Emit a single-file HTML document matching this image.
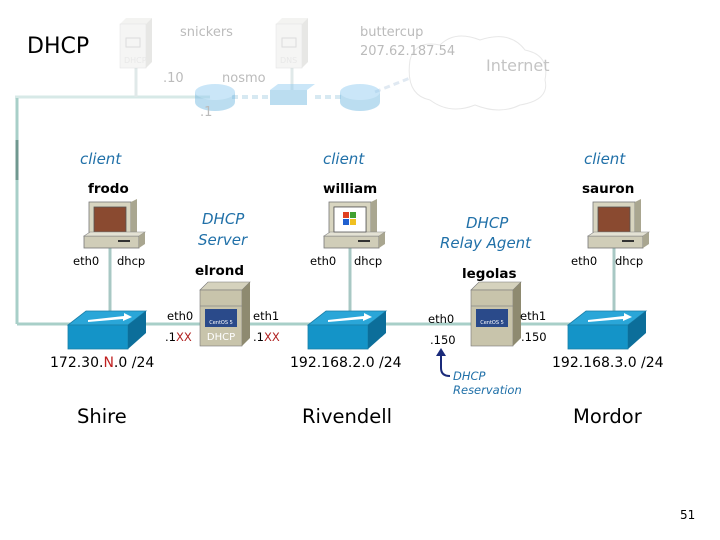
<!DOCTYPE html>
<html><head><meta charset="utf-8"><style>
html,body{margin:0;padding:0;background:#fff;}
svg{display:block;}
text{font-family:"DejaVu Sans","Liberation Sans",sans-serif;}
</style></head><body>
<svg width="720" height="540" viewBox="0 0 720 540" xmlns="http://www.w3.org/2000/svg">
<defs>
<g id="pc">
  <rect x="5" y="0" width="42" height="36" fill="#d8d5c0" stroke="#777" stroke-width="0.8"/>
  <path d="M47 0 l6 -3 v36 l-6 3z" fill="#a9a690"/>
  <rect x="10" y="5" width="32" height="25" fill="#8a4a30" stroke="#555" stroke-width="0.8"/>
  <rect x="0" y="34" width="55" height="12" fill="#d0cdb8" stroke="#777" stroke-width="0.8"/>
  <path d="M0 34 l6 -4 h55 l-6 4z" fill="#e4e2d4" stroke="#888" stroke-width="0.6"/>
  <path d="M55 34 l6 -4 v12 l-6 4z" fill="#a9a690"/>
  <rect x="34" y="38" width="12" height="2" fill="#333"/>
</g>
<g id="sw">
  <path d="M0 14 L18 0 H78 L60 14Z" fill="#2aa6d8" stroke="#1a7fa8" stroke-width="0.8"/>
  <rect x="0" y="14" width="60" height="24" fill="#1494c8" stroke="#1a7fa8" stroke-width="0.8"/>
  <path d="M60 14 L78 0 V22 L60 38Z" fill="#0c6e9a"/>
  <path d="M20 9 L56 5 L56 2 L64 6 L55 10 L55 8 L20 11Z" fill="#fff"/>
</g>
<g id="srv">
  <path d="M0 8 L8 0 H50 L42 8Z" fill="#d5d2bd" stroke="#777" stroke-width="0.6"/>
  <rect x="0" y="8" width="42" height="56" fill="#c8c4ab" stroke="#777" stroke-width="0.6"/>
  <path d="M42 8 L50 0 V56 L42 64Z" fill="#8e8a70"/>
  <line x1="0" y1="24" x2="42" y2="24" stroke="#888" stroke-width="0.8"/>
  <rect x="5" y="27" width="32" height="18" fill="#2a4a8a"/>
  <text x="21" y="42" font-size="5" fill="#fff" text-anchor="middle">CentOS 5</text>
</g>
<g id="fsrv" opacity="0.5">
  <path d="M0 6 L6 0 H32 L26 6Z" fill="#e8e8e4"/>
  <rect x="0" y="6" width="26" height="44" fill="#ececea" stroke="#ccc" stroke-width="0.6"/>
  <path d="M26 6 L32 0 V44 L26 50Z" fill="#d0d0cc"/>
  <rect x="6" y="20" width="14" height="9" fill="none" stroke="#bbb"/>
</g>
</defs>

<g opacity="0.55">
<line x1="15" y1="97" x2="210" y2="97" stroke="#b8d8d4" stroke-width="3"/>
<line x1="136" y1="68" x2="136" y2="97" stroke="#c8d8d8" stroke-width="3"/>
<line x1="292" y1="68" x2="292" y2="90" stroke="#c8d8d8" stroke-width="3"/>
<line x1="232" y1="97" x2="270" y2="97" stroke="#b8d8e8" stroke-width="4" stroke-dasharray="6,4"/>
<line x1="315" y1="97" x2="345" y2="97" stroke="#b8d8e8" stroke-width="4" stroke-dasharray="6,4"/>
<line x1="375" y1="92" x2="410" y2="78" stroke="#c8d8e8" stroke-width="3" stroke-dasharray="6,4"/>
</g>
<use href="#fsrv" x="120" y="18"/>
<use href="#fsrv" x="276" y="18"/>
<text x="124" y="63" font-size="8" fill="#e8e8e8">DHCP</text>
<text x="280" y="63" font-size="8" fill="#e8e8e8">DNS</text>
<g opacity="0.45">
<ellipse cx="215" cy="102" rx="20" ry="9" fill="#6ab4e0"/>
<rect x="195" y="92" width="40" height="10" fill="#6ab4e0"/>
<ellipse cx="215" cy="92" rx="20" ry="8" fill="#8ccaf0"/>
<path d="M270 90 L278 84 H315 L307 90Z" fill="#8ccaf0"/>
<rect x="270" y="90" width="37" height="15" fill="#6ab4e0"/>
<ellipse cx="360" cy="102" rx="20" ry="9" fill="#6ab4e0"/>
<rect x="340" y="92" width="40" height="10" fill="#6ab4e0"/>
<ellipse cx="360" cy="92" rx="20" ry="8" fill="#8ccaf0"/>
<path d="M410 60 q5 -20 30 -15 q15 -15 40 -5 q30 -10 45 10 q25 5 20 30 q5 20 -25 25 q-20 10 -45 0 q-25 10 -45 -5 q-25 -5 -20 -40z" fill="none" stroke="#ccc" stroke-width="1"/>
</g>
<text x="27" y="53" font-size="22" fill="#000">DHCP</text>
<text x="180" y="36" font-size="13" fill="#bbb">snickers</text>
<text x="360" y="36" font-size="13" fill="#bbb">buttercup</text>
<text x="360" y="55" font-size="13" fill="#bbb">207.62.187.54</text>
<text x="486" y="71" font-size="16" fill="#c4c4c4">Internet</text>
<text x="163" y="82" font-size="13" fill="#bbb">.10</text>
<text x="222" y="82" font-size="13" fill="#bbb">nosmo</text>
<text x="200" y="116" font-size="13" fill="#bbb">.1</text>

<line x1="17" y1="98" x2="17" y2="324" stroke="#a8cfc8" stroke-width="3"/>
<line x1="17" y1="140" x2="17" y2="180" stroke="#709890" stroke-width="3"/>
<line x1="17" y1="324" x2="645" y2="324" stroke="#a8cfc8" stroke-width="3"/>
<line x1="110" y1="248" x2="110" y2="318" stroke="#a8c8c4" stroke-width="3"/>
<line x1="350" y1="248" x2="350" y2="318" stroke="#a8c8c4" stroke-width="3"/>
<line x1="614" y1="248" x2="614" y2="318" stroke="#a8c8c4" stroke-width="3"/>

<use href="#pc" x="84" y="202"/>
<use href="#pc" x="324" y="202"/>
<use href="#pc" x="588" y="202"/>
<rect x="334" y="207" width="32" height="25" fill="#fff" stroke="#555" stroke-width="0.8"/>
<rect x="343" y="212" width="6" height="6" fill="#e04020"/><rect x="350" y="212" width="6" height="6" fill="#40a030"/>
<rect x="343" y="219" width="6" height="6" fill="#2060d0"/><rect x="350" y="219" width="6" height="6" fill="#f0c020"/>

<use href="#sw" x="68" y="311"/>
<use href="#sw" x="308" y="311"/>
<use href="#sw" x="568" y="311"/>

<use href="#srv" x="200" y="282"/>
<use href="#srv" x="471" y="282"/>
<text x="221" y="340" font-size="10" fill="#fff" text-anchor="middle">DHCP</text>

<g font-style="italic" fill="#2070a8" font-size="15">
<text x="80" y="164">client</text>
<text x="323" y="164">client</text>
<text x="584" y="164">client</text>
<text x="202" y="224">DHCP</text>
<text x="198" y="245">Server</text>
<text x="466" y="228">DHCP</text>
<text x="440" y="248">Relay Agent</text>
</g>
<g font-weight="bold" font-size="13.5" fill="#000">
<text x="88" y="193">frodo</text>
<text x="323" y="193">william</text>
<text x="582" y="193">sauron</text>
<text x="195" y="275">elrond</text>
<text x="462" y="278">legolas</text>
</g>
<g font-size="11.5" fill="#000">
<text x="73" y="265">eth0</text><text x="117" y="265">dhcp</text>
<text x="310" y="265">eth0</text><text x="354" y="265">dhcp</text>
<text x="571" y="265">eth0</text><text x="615" y="265">dhcp</text>
<text x="167" y="320">eth0</text><text x="253" y="320">eth1</text>
<text x="165" y="341">.1<tspan fill="#b02020">XX</tspan></text>
<text x="253" y="341">.1<tspan fill="#b02020">XX</tspan></text>
<text x="428" y="323">eth0</text><text x="520" y="320">eth1</text>
<text x="430" y="344">.150</text><text x="521" y="341">.150</text>
</g>
<g font-size="14" fill="#000">
<text x="50" y="367">172.30.<tspan fill="#c02020">N</tspan>.0 /24</text>
<text x="290" y="367">192.168.2.0 /24</text>
<text x="552" y="367">192.168.3.0 /24</text>
</g>
<path d="M441 352 V368 Q441 376 450 376" fill="none" stroke="#1a2a7a" stroke-width="2"/>
<path d="M436 356 L441 348 L446 356Z" fill="#1a2a7a"/>
<g font-style="italic" fill="#2070a8" font-size="11.5">
<text x="453" y="380">DHCP</text>
<text x="453" y="394">Reservation</text>
</g>
<g font-size="19.5" fill="#000">
<text x="77" y="423">Shire</text>
<text x="302" y="423">Rivendell</text>
<text x="573" y="423">Mordor</text>
</g>
<text x="680" y="519" font-size="12" fill="#000">51</text>
</svg>
</body></html>
